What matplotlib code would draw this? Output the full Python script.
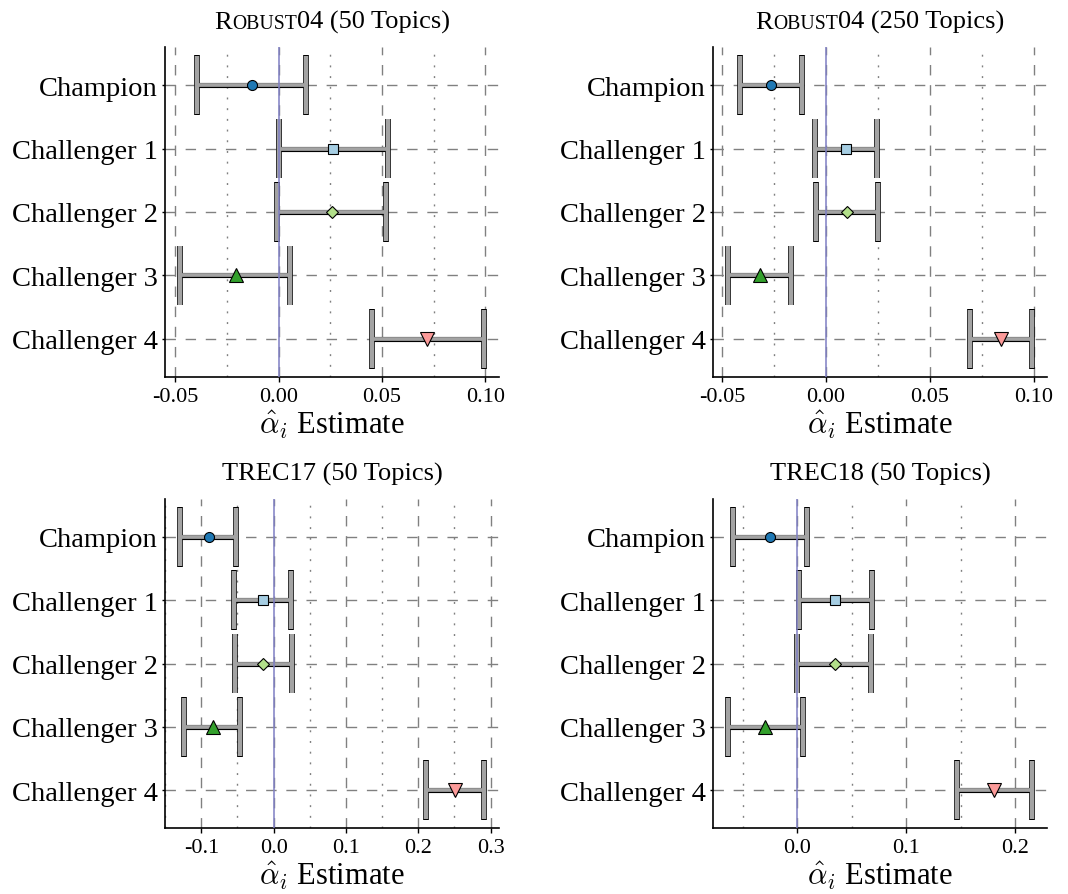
import matplotlib
matplotlib.use('Agg')
import matplotlib.pyplot as plt
from matplotlib import transforms
from matplotlib.ticker import MultipleLocator, FormatStrFormatter

plt.rcParams['font.family'] = ['Liberation Serif', 'DejaVu Serif']
plt.rcParams['mathtext.fontset'] = 'cm'
plt.rcParams['axes.unicode_minus'] = False

systems = ['Champion', 'Challenger 1', 'Challenger 2', 'Challenger 3', 'Challenger 4']
markers = ['o', 's', 'D', '^', 'v']
colors = ['#1f78b4', '#a6cee3', '#b2df8a', '#33a02c', '#fb9a99']
msizes = [7.2, 6.8, 6.2, 9.8, 9.8]

# Robust04, 50 topics
r50_est = [-0.0127, 0.0265, 0.0256, -0.0207, 0.0719]
r50_lo = [-0.0394, 0.0000, -0.0008, -0.0476, 0.0453]
r50_hi = [0.0133, 0.0531, 0.0521, 0.0056, 0.0992]

# Robust04, 250 topics
r250_est = [-0.0266, 0.0096, 0.0101, -0.0319, 0.0843]
r250_lo = [-0.0415, -0.0053, -0.0050, -0.0470, 0.0691]
r250_hi = [-0.0117, 0.0247, 0.0252, -0.0170, 0.0990]

# TREC17, 50 topics
t17_est = [-0.0897, -0.0152, -0.0143, -0.0841, 0.2506]
t17_lo = [-0.1292, -0.0543, -0.0533, -0.1237, 0.2110]
t17_hi = [-0.0515, 0.0234, 0.0248, -0.0464, 0.2906]

# TREC18, 50 topics
t18_est = [-0.0251, 0.0349, 0.0343, -0.0291, 0.1810]
t18_lo = [-0.0593, 0.0015, -0.0003, -0.0633, 0.1468]
t18_hi = [0.0086, 0.0688, 0.0682, 0.0049, 0.2153]

panels = [
    ([('R', 19), ('OBUST', 14.2), ('04 (50 Topics)', 19)], r50_est, r50_lo, r50_hi, 0.05, '%.2f'),
    ([('R', 19), ('OBUST', 14.2), ('04 (250 Topics)', 19)], r250_est, r250_lo, r250_hi, 0.05, '%.2f'),
    ([('TREC17 (50 Topics)', 19)], t17_est, t17_lo, t17_hi, 0.1, '%.1f'),
    ([('TREC18 (50 Topics)', 19)], t18_est, t18_lo, t18_hi, 0.1, '%.1f'),
]

W, H = 1068, 895
fig = plt.figure(figsize=(W / 100, H / 100), dpi=100)
renderer = fig.canvas.get_renderer()

# axes boxes in pixels: left, top, right, bottom
boxes = [(165, 48, 499, 378), (713, 48, 1047, 378),
         (165, 500, 499, 829), (713, 500, 1047, 829)]

dash = (0, (7.5, 7))
dot = (0, (1.4, 6.3))
gridc = '#808080'
barc = '#a3a3a3'
half = 0.46


def smallcaps_title(ax, parts):
    # draw title pieces side by side so "Robust" can be set in small caps
    texts = []
    total = 0
    for s, size in parts:
        t = ax.text(0.5, 1.0, s, fontsize=size, va='baseline', ha='left')
        w = t.get_window_extent(renderer).width
        texts.append((t, w))
        total += w
    x = -total / 2
    for t, w in texts:
        t.set_transform(ax.transAxes + transforms.ScaledTranslation(
            x / 100, 19 / 100, fig.dpi_scale_trans))
        x += w


for (title, est, lo, hi, step, fmt), (l, t, r, b) in zip(panels, boxes):
    ax = fig.add_axes([l / W, 1 - b / H, (r - l) / W, (b - t) / H])
    y = list(range(len(systems)))

    ax.hlines(y, lo, hi, color='black', lw=3.7, zorder=2)
    ax.vlines(lo, [v - half - 0.01 for v in y], [v + half + 0.01 for v in y], color='black', lw=4.1, zorder=2)
    ax.vlines(hi, [v - half - 0.01 for v in y], [v + half + 0.01 for v in y], color='black', lw=4.1, zorder=2)
    ax.hlines(y, lo, hi, color=barc, lw=2.7, zorder=3)
    ax.vlines(lo, [v - half for v in y], [v + half for v in y], color=barc, lw=3.1, zorder=3)
    ax.vlines(hi, [v - half for v in y], [v + half for v in y], color=barc, lw=3.1, zorder=3)

    ax.axvline(0, color='#7f7fc4', lw=1.1, zorder=4)

    for i in y:
        ax.plot(est[i], i, ls='none', marker=markers[i], ms=msizes[i],
                mfc=colors[i], mec='black', mew=0.8, zorder=5)

    ax.set_ylim(len(systems) - 0.4, -0.6)
    ax.set_yticks(y)
    ax.set_yticklabels(systems, fontsize=20.5)
    ax.xaxis.set_major_locator(MultipleLocator(step))
    ax.xaxis.set_minor_locator(MultipleLocator(step / 2))
    ax.xaxis.set_major_formatter(FormatStrFormatter(fmt))
    ax.tick_params(axis='x', which='major', labelsize=16, length=3.5, width=1, pad=3.5)
    ax.tick_params(axis='x', which='minor', length=0)
    ax.tick_params(axis='y', length=2.5, width=1, pad=2.5)

    ax.set_axisbelow(True)
    ax.grid(True, axis='x', which='major', color=gridc, ls=dash, lw=1.0)
    ax.grid(True, axis='x', which='minor', color=gridc, ls=dot, lw=1.0)
    ax.grid(True, axis='y', which='major', color=gridc, ls=dash, lw=1.0)

    for side in ['top', 'right']:
        ax.spines[side].set_visible(False)
    for side in ['left', 'bottom']:
        ax.spines[side].set_linewidth(1.2)

    ax.set_xlabel(r'$\hat{\alpha}_i$ Estimate', fontsize=22, labelpad=1)
    smallcaps_title(ax, title)

fig.savefig('out.png', dpi=100)
